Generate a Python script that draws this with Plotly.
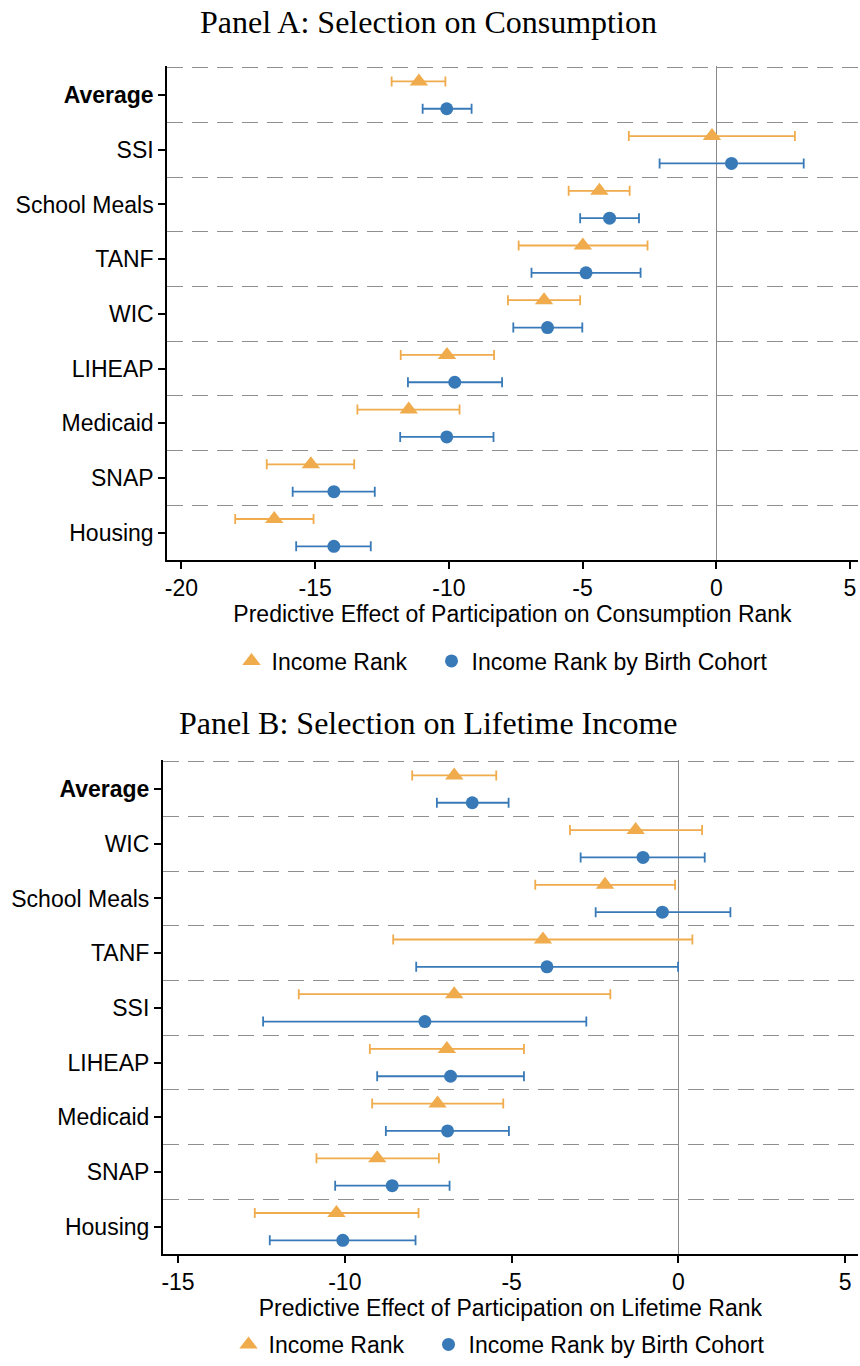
import plotly.graph_objects as go

W, H = 860, 1366

# ---------------- Data ----------------
cats_a = ["Average", "SSI", "School Meals", "TANF", "WIC", "LIHEAP", "Medicaid", "SNAP", "Housing"]
inc_a = [-11.12, -0.16, -4.37, -4.99, -6.44, -10.07, -11.50, -15.16, -16.53]
inc_a_lo = [-12.14, -3.27, -5.52, -7.39, -7.79, -11.80, -13.42, -16.81, -17.99]
inc_a_hi = [-10.13, 2.94, -3.24, -2.57, -5.09, -8.31, -9.60, -13.54, -15.06]
coh_a = [-10.08, 0.57, -3.99, -4.87, -6.31, -9.78, -10.08, -14.30, -14.30]
coh_a_lo = [-10.98, -2.12, -5.09, -6.91, -7.59, -11.53, -11.82, -15.84, -15.71]
coh_a_hi = [-9.15, 3.27, -2.89, -2.83, -5.01, -8.01, -8.33, -12.77, -12.92]

cats_b = ["Average", "WIC", "School Meals", "TANF", "SSI", "LIHEAP", "Medicaid", "SNAP", "Housing"]
inc_b = [-6.72, -1.28, -2.20, -4.06, -6.72, -6.94, -7.22, -9.03, -10.25]
inc_b_lo = [-7.98, -3.25, -4.29, -8.55, -11.38, -9.25, -9.18, -10.85, -12.70]
inc_b_hi = [-5.46, 0.71, -0.10, 0.42, -2.04, -4.63, -5.25, -7.18, -7.79]
coh_b = [-6.18, -1.06, -0.48, -3.94, -7.60, -6.83, -6.92, -8.58, -10.06]
coh_b_lo = [-7.24, -2.93, -2.48, -7.86, -12.45, -9.03, -8.77, -10.29, -12.25]
coh_b_hi = [-5.09, 0.79, 1.56, -0.01, -2.76, -4.63, -5.08, -6.86, -7.88]

ticks_a = [-20, -15, -10, -5, 0, 5]
ticks_b = [-15, -10, -5, 0, 5]

series_names = ["Income Rank", "Income Rank by Birth Cohort"]
titles = ["Panel A: Selection on Consumption", "Panel B: Selection on Lifetime Income"]
xtitles = ["Predictive Effect of Participation on Consumption Rank",
           "Predictive Effect of Participation on Lifetime Rank"]

ORANGE = "#F0AB4C"
BLUE = "#387AB7"
SANS = "Liberation Sans, Arial, sans-serif"
SERIF = "Liberation Serif, Times New Roman, serif"
FS = 23
TOP_PAD = 0.03  # category units above the first dashed line (keeps the top dashed line visible)

fig = go.Figure()


def add_panel(cats, inc, inc_lo, inc_hi, coh, coh_lo, coh_hi, xa, ya, leg):
    pos = list(range(1, len(cats) + 1))
    y_inc = [p - 0.25 for p in pos]
    y_coh = [p + 0.25 for p in pos]
    fig.add_trace(go.Scatter(
        x=inc, y=y_inc, mode="markers", name=series_names[0],
        marker=dict(symbol="triangle-up", size=16, color=ORANGE),
        error_x=dict(type="data", symmetric=False,
                     array=[h - v for h, v in zip(inc_hi, inc)],
                     arrayminus=[v - l for v, l in zip(inc, inc_lo)],
                     color=ORANGE, thickness=1.8, width=5),
        xaxis=xa, yaxis=ya, legend=leg, legendwidth=155, hoverinfo="x+y"))
    fig.add_trace(go.Scatter(
        x=coh, y=y_coh, mode="markers", name=series_names[1],
        marker=dict(symbol="circle", size=13, color=BLUE),
        error_x=dict(type="data", symmetric=False,
                     array=[h - v for h, v in zip(coh_hi, coh)],
                     arrayminus=[v - l for v, l in zip(coh, coh_lo)],
                     color=BLUE, thickness=1.8, width=5),
        xaxis=xa, yaxis=ya, legend=leg, hoverinfo="x+y"))


add_panel(cats_a, inc_a, inc_a_lo, inc_a_hi, coh_a, coh_a_lo, coh_a_hi, "x", "y", "legend")
add_panel(cats_b, inc_b, inc_b_lo, inc_b_hi, coh_b, coh_b_lo, coh_b_hi, "x2", "y2", "legend2")


def px_y(py):
    return 1 - py / H


def xaxis_cfg(dom, rng, ticks, title, anchor):
    return dict(
        domain=dom, range=rng, anchor=anchor, tickvals=ticks, ticktext=[str(t) for t in ticks],
        showline=True, linecolor="black", linewidth=1.5,
        ticks="outside", ticklen=7, tickwidth=1.5, tickcolor="black",
        tickfont=dict(family=SANS, size=FS, color="black"),
        title=dict(text=title, font=dict(family=SANS, size=FS, color="black"), standoff=2),
        showgrid=False, zeroline=True, zerolinecolor="#8a8a8a", zerolinewidth=1,
        automargin=False, fixedrange=True)


def yaxis_cfg(bottom_px, cats, anchor):
    n = len(cats)
    unit = 54.7
    top_px = bottom_px - unit * (n + TOP_PAD)
    labels = [("<b>%s</b>" % c) if c == "Average" else c for c in cats]
    return dict(
        domain=[px_y(bottom_px), px_y(top_px)], range=[n + 0.5, 0.5 - TOP_PAD], anchor=anchor,
        tickvals=list(range(1, n + 1)), ticktext=labels,
        showline=True, linecolor="black", linewidth=1.5,
        ticks="outside", ticklen=7, tickwidth=1.5, tickcolor="black",
        tickfont=dict(family=SANS, size=FS, color="black"),
        showgrid=False, zeroline=False,
        minor=dict(tickvals=[k + 0.5 for k in range(n)], showgrid=True,
                   gridcolor="#8f8f8f", gridwidth=1.4, griddash="16px,9px", ticks=""),
        automargin=False, fixedrange=True)


fig.update_layout(
    width=W, height=H,
    margin=dict(l=0, r=0, t=0, b=0),
    paper_bgcolor="white", plot_bgcolor="white",
    xaxis=xaxis_cfg([167 / W, 858 / W], [-20.54, 5.30], ticks_a, xtitles[0], "y"),
    yaxis=yaxis_cfg(560, cats_a, "x"),
    xaxis2=xaxis_cfg([162.7 / W, 858 / W], [-15.46, 5.385], ticks_b, xtitles[1], "y2"),
    yaxis2=yaxis_cfg(1254, cats_b, "x2"),
    legend=dict(orientation="h", x=502 / W, xanchor="center", y=px_y(661), yanchor="middle",
                font=dict(family=SANS, size=FS, color="black"), bgcolor="rgba(0,0,0,0)"),
    legend2=dict(orientation="h", x=499 / W, xanchor="center", y=0, yanchor="bottom",
                 font=dict(family=SANS, size=FS, color="black"), bgcolor="rgba(0,0,0,0)"),
    annotations=[
        dict(text=titles[0], x=428 / W, y=px_y(22.5), xref="paper", yref="paper",
             xanchor="center", yanchor="middle", showarrow=False,
             font=dict(family=SERIF, size=32, color="black")),
        dict(text=titles[1], x=428.7 / W, y=px_y(723), xref="paper", yref="paper",
             xanchor="center", yanchor="middle", showarrow=False,
             font=dict(family=SERIF, size=32, color="black")),
    ],
    showlegend=True,
)

fig.write_html("out.html")
